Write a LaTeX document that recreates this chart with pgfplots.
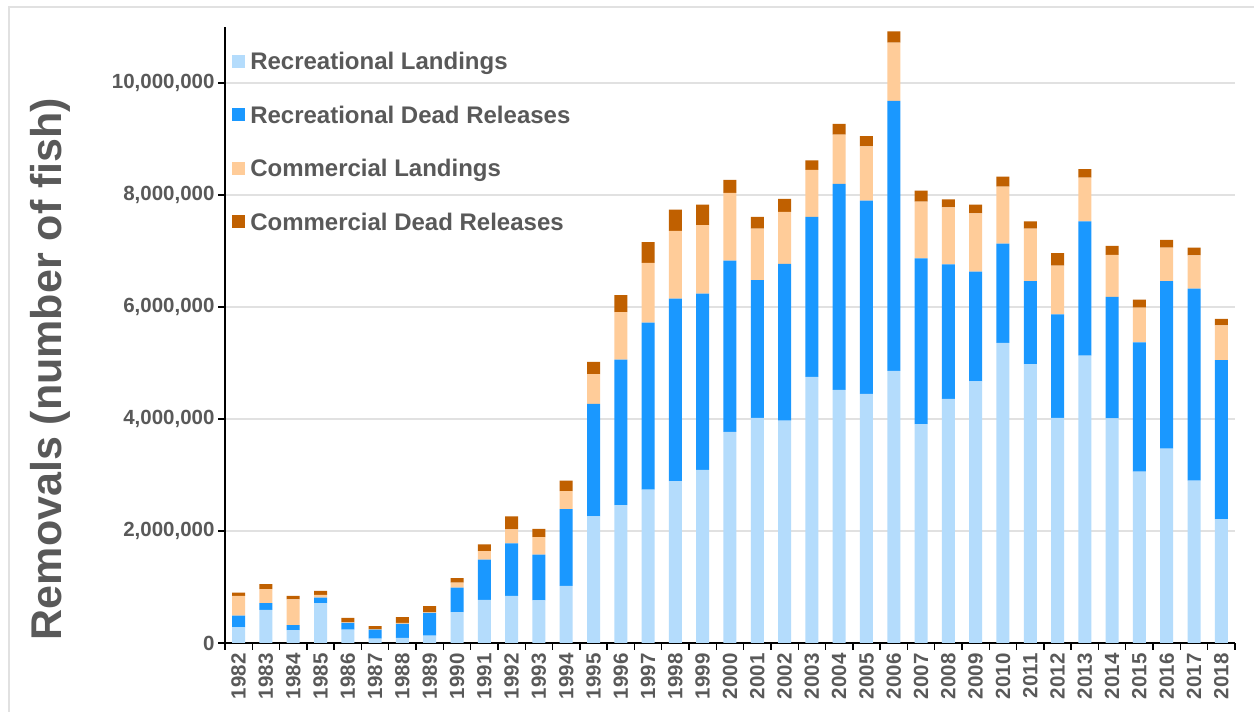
\documentclass[border=0pt]{standalone}
\usepackage{pgfplots}
\pgfplotsset{compat=1.18}
\usepackage{pgfplotstable}
\usepackage{fontspec}
\setmainfont{Liberation Sans}
\definecolor{rl}{RGB}{180,220,252}
\definecolor{rdr}{RGB}{26,152,255}
\definecolor{cl}{RGB}{255,204,153}
\definecolor{cdr}{RGB}{192,96,0}
\definecolor{txt}{RGB}{89,89,89}
\definecolor{gridc}{RGB}{225,225,225}
% values in millions of fish
\pgfplotstableread{
x rl rdr cl cdr
0 0.28 0.21 0.35 0.06
1 0.59 0.12 0.25 0.09
2 0.23 0.09 0.46 0.06
3 0.71 0.10 0.05 0.07
4 0.24 0.12 0.01 0.08
5 0.08 0.16 0.005 0.055
6 0.09 0.25 0.02 0.10
7 0.13 0.41 0.01 0.11
8 0.55 0.44 0.09 0.08
9 0.77 0.72 0.15 0.12
10 0.84 0.94 0.25 0.23
11 0.76 0.82 0.31 0.15
12 1.02 1.37 0.32 0.19
13 2.26 2.01 0.53 0.22
14 2.46 2.60 0.85 0.30
15 2.74 2.98 1.07 0.37
16 2.89 3.26 1.21 0.38
17 3.09 3.15 1.22 0.37
18 3.77 3.06 1.21 0.23
19 4.02 2.46 0.92 0.21
20 3.97 2.80 0.93 0.23
21 4.75 2.86 0.84 0.17
22 4.52 3.68 0.88 0.19
23 4.45 3.45 0.97 0.18
24 4.86 4.82 1.04 0.20
25 3.91 2.96 1.01 0.20
26 4.36 2.40 1.02 0.14
27 4.67 1.96 1.04 0.16
28 5.36 1.77 1.02 0.18
29 4.98 1.48 0.94 0.13
30 4.02 1.85 0.87 0.22
31 5.13 2.40 0.78 0.15
32 4.01 2.17 0.75 0.16
33 3.06 2.31 0.62 0.14
34 3.47 2.99 0.60 0.14
35 2.90 3.43 0.59 0.14
36 2.21 2.84 0.62 0.12
}\data
\begin{document}
\begin{tikzpicture}[x=1pt,y=1pt]
\useasboundingbox (0,0) rectangle (1254,712);
\fill[white] (0,0) rectangle (1254,712);
\draw[gridc, line width=2pt] (9,-20) rectangle (1290,705);
\begin{axis}[
  at={(225pt,69pt)}, anchor=south west,
  scale only axis, width=1010pt, height=616pt,
  xmin=-0.5, xmax=36.5, ymin=0, ymax=11,
  ybar stacked, bar width=13pt,
  axis x line*=bottom, axis y line*=left,
  axis line style={black, line width=1.4pt},
  tick align=outside,
  ytick={0,2,4,6,8,10},
  yticklabels={{0},{2,000,000},{4,000,000},{6,000,000},{8,000,000},{10,000,000}},
  major tick length=7pt,
  ytick style={black, line width=1.4pt},
  ymajorgrids, grid style={gridc, line width=1.5pt},
  xtick={0,...,36},
  xticklabels={1982,1983,1984,1985,1986,1987,1988,1989,1990,1991,1992,1993,1994,1995,1996,1997,1998,1999,2000,2001,2002,2003,2004,2005,2006,2007,2008,2009,2010,2011,2012,2013,2014,2015,2016,2017,2018},
  major x tick style={draw=none},
  minor xtick={-0.5,0.5,...,36.5},
  minor tick length=7pt,
  minor x tick style={black, line width=1.4pt},
  /pgf/number format/assume math mode=true,
  yticklabel style={font=\fontsize{20.5}{24}\selectfont\bfseries, text=txt},
  xticklabel style={font=\fontsize{20.5}{24}\selectfont\bfseries, text=txt, rotate=90, anchor=east},
  legend style={at={(axis description cs:0.007,0.962)}, anchor=north west, draw=none, fill=none,
    font=\fontsize{24}{28}\selectfont\bfseries, text=txt, row sep=30.5pt, inner sep=0pt,
    nodes={inner xsep=5pt}},
  legend cell align=left,
  legend image code/.code={\fill[#1] (0pt,-6pt) rectangle (13pt,7pt);},
  clip=false,
]
\addplot[fill=rl, draw=none] table[x=x, y=rl] {\data};
\addplot[fill=rdr, draw=none] table[x=x, y=rdr] {\data};
\addplot[fill=cl, draw=none] table[x=x, y=cl] {\data};
\addplot[fill=cdr, draw=none] table[x=x, y=cdr] {\data};
\legend{Recreational Landings, Recreational Dead Releases, Commercial Landings, Commercial Dead Releases}
\end{axis}
\node[rotate=90, font=\fontsize{43}{50}\selectfont\bfseries, text=txt] at (50,343) {Removals (number of fish)};
\end{tikzpicture}
\end{document}
